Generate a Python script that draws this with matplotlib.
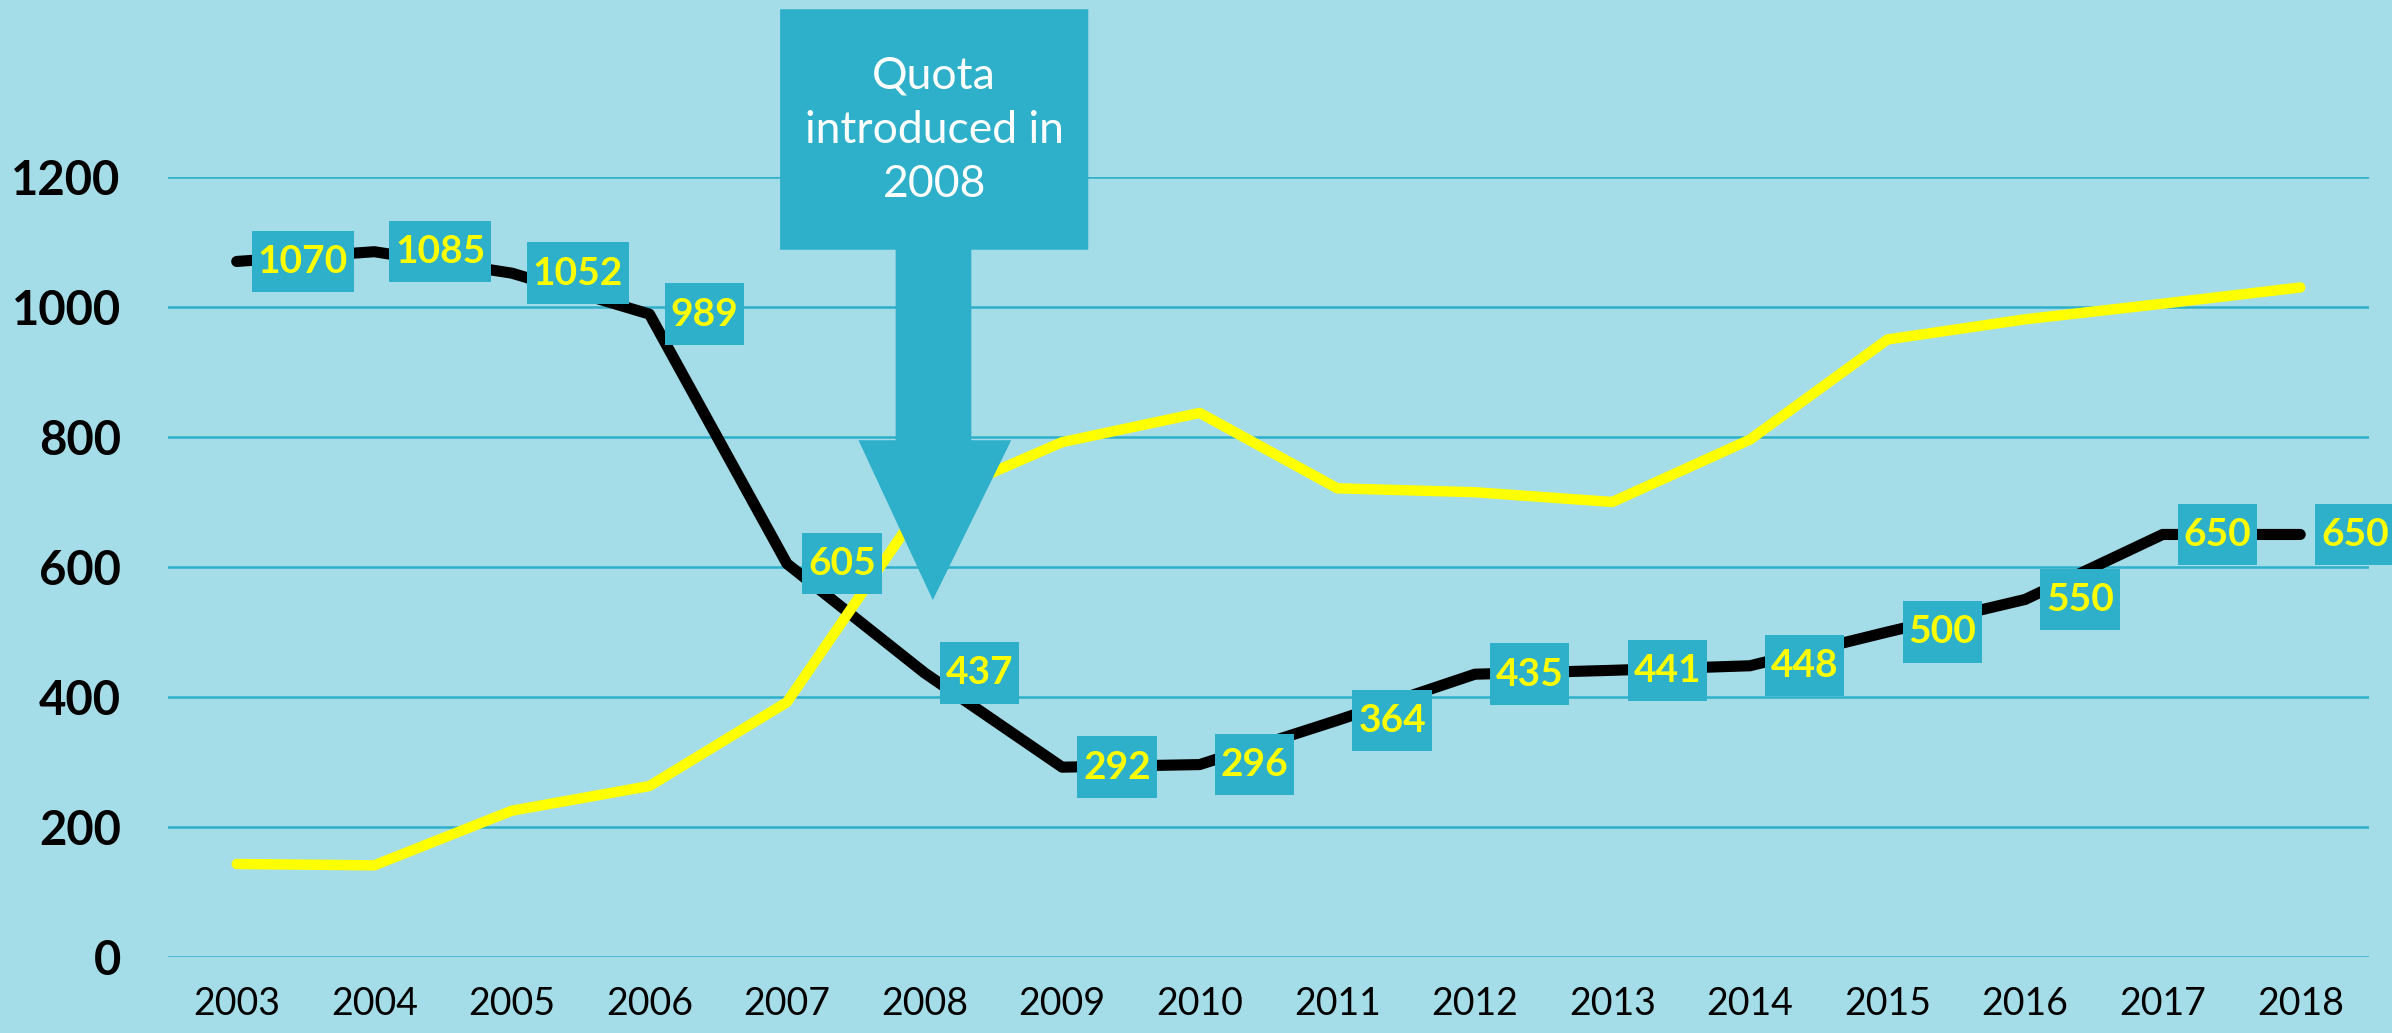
import numpy as np
import matplotlib.pyplot as plt
from matplotlib.path import Path
from matplotlib.patches import Polygon

# dati
anni = ["2003", "2004", "2005", "2006", "2007", "2008", "2009", "2010",
        "2011", "2012", "2013", "2014", "2015", "2016", "2017", "2018"]
nero = [1070, 1085, 1052, 989, 605, 437, 292, 296, 364, 435, 441, 448, 500, 550, 650, 650]
giallo = [143, 141, 225, 263, 392, 700, 792, 837, 721, 715, 700, 796, 950, 981, 1005, 1030]
y_ticks = [0, 200, 400, 600, 800, 1000, 1200]
nota = "Quota\nintroduced in\n2008"

sfondo = "#a4dce8"
teal = "#2eafca"

plt.rcParams['font.family'] = ['Lato', 'DejaVu Sans']

fig = plt.figure(figsize=(23.92, 10.33), dpi=100, facecolor=sfondo)
ax = fig.add_axes([0.0702, 0.0736, 0.9202, 0.7551])
ax.set_facecolor(sfondo)

x = np.arange(len(anni))
ax.plot(x, nero, color="black", lw=8, solid_capstyle="round", zorder=3)
ax.plot(x, giallo, color="#ffff00", lw=7.5, solid_capstyle="round", zorder=4)


# box delle etichette: piu' alto che largo rispetto al pad standard
def box_etichetta(x0, y0, width, height, mutation_size):
    px = 0.15 * mutation_size
    hh = 0.79 * mutation_size
    cy = y0 + height / 2
    v = [(x0 - px, cy - hh), (x0 + width + px, cy - hh),
         (x0 + width + px, cy + hh), (x0 - px, cy + hh), (x0 - px, cy - hh)]
    return Path(v, closed=True)


for i, v in enumerate(nero):
    ax.annotate(str(v), (i, v), xytext=(21, 0), textcoords="offset pixels",
                ha="left", va="center", fontsize=28, fontweight="bold",
                color="#ffff00", zorder=5, annotation_clip=False,
                bbox=dict(boxstyle=box_etichetta, fc=teal, ec="none"))

# freccia
freccia = [(3.95, 1458), (6.19, 1458), (6.19, 1088), (5.34, 1088), (5.34, 795),
           (5.63, 795), (5.06, 549), (4.52, 795), (4.79, 795), (4.79, 1088),
           (3.95, 1088)]
ax.add_patch(Polygon(freccia, closed=True, fc=teal, ec="none", zorder=6, clip_on=False))
ax.text(5.07, 1272, nota, ha="center", va="center", color="white", fontsize=32,
        linespacing=1.4, zorder=7)

ax.set_xlim(-0.5, len(anni) - 0.5)
ax.set_ylim(0, 1200)
ax.set_xticks(x, anni)
ax.set_yticks(y_ticks)
ax.grid(axis="y", color=teal, lw=1.8)
ax.set_axisbelow(True)
for s in ax.spines.values():
    s.set_visible(False)
ax.tick_params(axis="x", length=0, pad=21, labelsize=27)
ax.tick_params(axis="y", length=0, pad=34, labelsize=34)
for t in ax.get_yticklabels():
    t.set_fontweight("bold")

plt.savefig("out.png", dpi=100, facecolor=sfondo)
